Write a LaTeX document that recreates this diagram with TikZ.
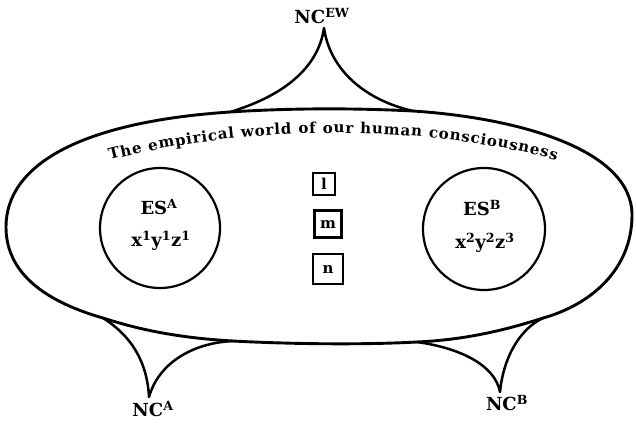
\documentclass[tikz,border=0pt]{standalone}
\usepackage{fontspec}
\setmainfont{DejaVu Serif}
\usetikzlibrary{decorations.text}
\begin{document}
\begin{tikzpicture}[x=1pt,y=-1pt,
  lbl/.style={font=\fontsize{18}{20}\selectfont\bfseries, inner sep=0pt},
  esc/.style={circle, draw, line width=2.2pt, minimum size=#1, inner sep=0pt},
  bx/.style={draw, line width=2.4pt, minimum size=#1, inner sep=0pt, font=\fontsize{15}{16}\selectfont\bfseries},
  edge/.style={line width=2.5pt, line join=round, line cap=round}
]
\useasboundingbox (0,0) rectangle (636,424);

% cusp apexes and junctions
\coordinate (apexEW) at (324,28);
\coordinate (apexA) at (149,397);
\coordinate (apexB) at (500,392);
\coordinate (jTL) at (230,112);
\coordinate (jTR) at (413,111);
\coordinate (jAL) at (103,318);
\coordinate (jAR) at (233,341);
\coordinate (jBL) at (417,342);
\coordinate (jBR) at (543,318);
\coordinate (eL) at (6,227);
\coordinate (eR) at (632,215);

% the empirical world (blob)
\draw[edge, line width=2.9pt]
  (eL) .. controls (6,165) and (80,122) .. (jTL)
  .. controls (290,108) and (355,108) .. (jTR)
  .. controls (520,118) and (632,150) .. (eR)
  .. controls (632,270) and (590,305) .. (jBR)
  .. controls (500,332) and (460,340) .. (jBL)
  .. controls (360,345) and (290,344) .. (jAR)
  .. controls (180,338) and (140,330) .. (jAL)
  .. controls (40,300) and (6,270) .. (eL) -- cycle;

% cusps
\draw[edge] (jTL) .. controls (280,97) and (318,70) .. (apexEW)
            .. controls (330,70) and (365,100) .. (jTR);
\draw[edge] (jAL) .. controls (130,335) and (147,360) .. (apexA)
            .. controls (158,365) and (190,343) .. (jAR);
\draw[edge] (jBL) .. controls (460,348) and (495,365) .. (apexB)
            .. controls (503,360) and (518,330) .. (jBR);

% labels
\node[lbl] (ncew) at (322,16) {NC\textsuperscript{EW}};
\node[lbl] (nca) at (153,409) {NC\textsuperscript{A}};
\node[lbl] (ncb) at (507,403) {NC\textsuperscript{B}};

% title along arc
\path[decorate, decoration={text along path, text align=fit to path,
  text={|\fontsize{15}{16}\selectfont\bfseries|The empirical world of our human consciousness}}]
  (110,160) .. controls (250,124) and (420,124) .. (556,160);

% circles
\node[esc=120pt] (esa) at (160,228) {};
\node[esc=122pt] (esb) at (484,229) {};
\node[lbl] (esat) at (159,207) {ES\textsuperscript{A}};
\node[lbl] (esax) at (161,241) {x\textsuperscript{1}y\textsuperscript{1}z\textsuperscript{1}};
\node[lbl] (esbt) at (482,208) {ES\textsuperscript{B}};
\node[lbl] (esbx) at (485,243) {x\textsuperscript{2}y\textsuperscript{2}z\textsuperscript{3}};

% boxes
\node[bx=22pt] (bl) at (324,184) {l};
\node[bx=27pt] (bm) at (328,224) {m};
\node[bx=30pt] (bn) at (328,269) {n};
\end{tikzpicture}
\end{document}
